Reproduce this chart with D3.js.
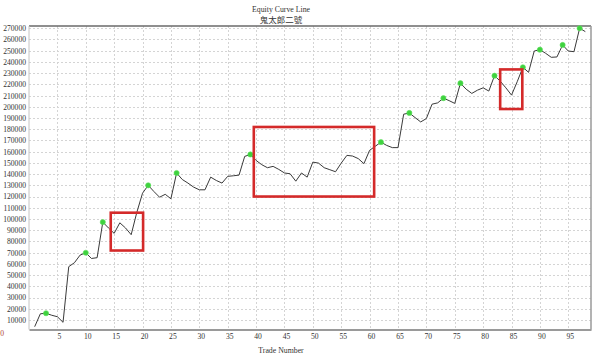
<!DOCTYPE html>
<html><head><meta charset="utf-8">
<script src="https://cdn.jsdelivr.net/npm/d3@7"></script>
<style>
html,body{margin:0;padding:0;background:#fff;}
svg{display:block;}
</style></head>
<body>
<svg id="chart" width="600" height="359"></svg>
<script>
// ---- data ----
const trades = d3.range(1, 99);
const equity = [
  4000, 15500, 16000, 14200, 12900, 7900, 57500, 61000, 67800, 69900,
  64800, 65500, 97200, 92000, 87200, 96600, 92000, 86000, 106000, 123000,
  130000, 124500, 119400, 122000, 118000, 141000, 135200, 132000, 128400, 126000,
  126000, 137300, 134300, 132000, 138000, 138500, 139100, 155800, 157500, 152200,
  148400, 145700, 146900, 144200, 141000, 140300, 133700, 141000, 137300, 150700,
  149800, 145700, 143900, 142100, 149800, 156700, 156100, 153800, 149300, 161200,
  164800, 168500, 165600, 163600, 163600, 193400, 194500, 190400, 186500, 189500,
  202300, 203500, 207700, 205500, 203000, 221000, 215700, 211900, 214800, 216900,
  214000, 227700, 222900, 216900, 210400, 222300, 235200, 230700, 249700, 250900,
  247700, 244100, 244400, 255100, 249700, 249100, 270000, 267000
];
const highTrades = [3, 10, 13, 21, 26, 39, 62, 67, 73, 76, 82, 87, 90, 94, 97];
const xTicks = [5,10,15,20,25,30,35,40,45,50,55,60,65,70,75,80,85,90,95];
const yTicks = d3.range(10000, 270001, 10000);
// annotation boxes: [tradeFrom, tradeTo, valueHigh, valueLow]
const boxesT0 = [14.4, 39.6, 83.0];
const boxesT1 = [20.1, 60.8, 86.9];
const boxesV0 = [105600, 182000, 233300];
const boxesV1 = [71900, 120000, 198000];
const titleText = "Equity Curve Line";
const subTitleText = "鬼太郎二號";
const xTitleText = "Trade Number";

// ---- chart ----
const svg = d3.select("#chart");
const L = 29, R = 591, T = 26, B = 329.5;
const x = d3.scaleLinear().domain([0, 99]).range([L, R]);
const y = d3.scaleLinear().domain([1500, 272000]).range([B, T]);
const serif = "'Liberation Serif','DejaVu Serif',serif";

svg.append("rect").attr("width", 600).attr("height", 359).attr("fill", "#fff");

// grid
const grid = svg.append("g");
grid.selectAll("line.h").data(yTicks).join("line")
  .attr("x1", L).attr("x2", R)
  .attr("y1", d => Math.round(y(d)) + 0.5).attr("y2", d => Math.round(y(d)) + 0.5)
  .attr("stroke", "#d4d4d4").attr("stroke-width", 1).attr("stroke-dasharray", "2,2");
grid.selectAll("line.v").data(xTicks).join("line")
  .attr("y1", T).attr("y2", B)
  .attr("x1", d => Math.round(x(d)) + 0.5).attr("x2", d => Math.round(x(d)) + 0.5)
  .attr("stroke", "#d4d4d4").attr("stroke-width", 1).attr("stroke-dasharray", "2,2");

// frame
svg.append("line").attr("x1", L).attr("x2", R).attr("y1", T).attr("y2", T)
  .attr("stroke", "#6a6a6a").attr("stroke-width", 1.5);
svg.append("line").attr("x1", R).attr("x2", R).attr("y1", T).attr("y2", B)
  .attr("stroke", "#9a9a9a").attr("stroke-width", 1.5);
svg.append("line").attr("x1", L).attr("x2", L).attr("y1", T).attr("y2", B)
  .attr("stroke", "#c4c4c4").attr("stroke-width", 1);

// axes
const yAxis = svg.append("g").attr("transform", `translate(${L - 3},0)`)
  .call(d3.axisLeft(y).tickValues(yTicks).tickSize(0).tickPadding(0).tickFormat(d3.format("d")));
yAxis.select(".domain").remove();
yAxis.selectAll("text").attr("font-family", serif).attr("font-size", 7.6).attr("fill", "#333");

const xAxis = svg.append("g").attr("transform", `translate(0,${B})`)
  .call(d3.axisBottom(x).tickValues(xTicks).tickSize(0).tickPadding(4).tickFormat(d3.format("d")));
xAxis.select(".domain").attr("stroke", "#9a9a9a").attr("stroke-width", 2);
xAxis.selectAll("text").attr("font-family", serif).attr("font-size", 7.6).attr("fill", "#333")
  .attr("dx", 1.5);

// red zero label
svg.append("text").attr("x", 4).attr("y", 336).attr("text-anchor", "end")
  .attr("font-family", serif).attr("font-size", 7.6).attr("fill", "#b04030").text("0");

// line
const pts = trades.map((t, i) => [t, equity[i]]);
svg.append("path").datum(pts)
  .attr("d", d3.line().x(d => x(d[0])).y(d => y(d[1])))
  .attr("fill", "none").attr("stroke", "#3a3a3a").attr("stroke-width", 1);

// new-high markers
svg.selectAll("circle.hi").data(highTrades).join("circle")
  .attr("cx", t => x(t)).attr("cy", t => y(equity[t - 1])).attr("r", 2.6)
  .attr("fill", "#3fd23f").attr("stroke", "#5fe05f").attr("stroke-width", 0.6);

// annotation boxes
svg.selectAll("rect.box").data(d3.range(boxesT0.length)).join("rect")
  .attr("x", i => x(boxesT0[i])).attr("y", i => y(boxesV0[i]))
  .attr("width", i => x(boxesT1[i]) - x(boxesT0[i]))
  .attr("height", i => y(boxesV1[i]) - y(boxesV0[i]))
  .attr("fill", "none").attr("stroke", "#d42a2a").attr("stroke-width", 2.6);

// titles
svg.append("text").attr("x", 281).attr("y", 12).attr("text-anchor", "middle")
  .attr("font-family", serif).attr("font-size", 7.8).attr("fill", "#333").text(titleText);
svg.append("text").attr("x", 281).attr("y", 23).attr("text-anchor", "middle")
  .attr("font-family", "'Noto Sans CJK TC','Noto Sans CJK SC',sans-serif").attr("font-size", 8.5)
  .attr("fill", "#333").text(subTitleText);
svg.append("text").attr("x", 281).attr("y", 353).attr("text-anchor", "middle")
  .attr("font-family", serif).attr("font-size", 7.8).attr("fill", "#333").text(xTitleText);
</script>
</body></html>
